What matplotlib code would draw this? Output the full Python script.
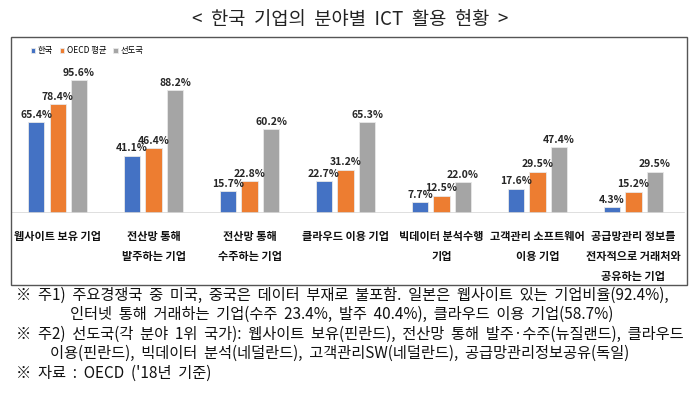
import numpy as np
import matplotlib
matplotlib.use("Agg")
import matplotlib.pyplot as plt
from matplotlib.patches import Rectangle

plt.rcParams['font.family'] = ['Noto Sans CJK KR', 'DejaVu Sans']

# data
categories = ["웹사이트 보유 기업", "전산망 통해\n발주하는 기업", "전산망 통해\n수주하는 기업",
              "클라우드 이용 기업", "빅데이터 분석수행\n기업", "고객관리 소프트웨어\n이용 기업",
              "공급망관리 정보를\n전자적으로 거래처와\n공유하는 기업"]
series_names = ["한국", "OECD 평균", "선도국"]
korea = [65.4, 41.1, 15.7, 22.7, 7.7, 17.6, 4.3]
oecd = [78.4, 46.4, 22.8, 31.2, 12.5, 29.5, 15.2]
leader = [95.6, 88.2, 60.2, 65.3, 22.0, 47.4, 29.5]
colors = ["#4472C4", "#ED7D31", "#A5A5A5"]

notes = [
    "※ 주1) 주요경쟁국 중 미국, 중국은 데이터 부재로 불포함. 일본은 웹사이트 있는 기업비율(92.4%),",
    "인터넷 통해 거래하는 기업(수주 23.4%, 발주 40.4%), 클라우드 이용 기업(58.7%)",
    "※ 주2) 선도국(각 분야 1위 국가): 웹사이트 보유(핀란드), 전산망 통해 발주·수주(뉴질랜드), 클라우드",
    "이용(핀란드), 빅데이터 분석(네덜란드), 고객관리SW(네덜란드), 공급망관리정보공유(독일)",
    "※ 자료 : OECD ('18년 기준)",
]
note_indent = [16, 70, 16, 50, 16]

W, H = 700, 395
fig = plt.figure(figsize=(7, 3.95), dpi=100)

# outer box
fig.add_artist(Rectangle((11 / W, 1 - 285 / H), 676 / W, 248 / H, transform=fig.transFigure,
                         fill=False, edgecolor="#555555", lw=1))

fig.text(0.5, 1 - 19 / H, "<  한국  기업의  분야별  ICT  활용  현황  >", ha="center", va="center",
         fontsize=13.5, color="#222222")

ax = fig.add_axes([10 / W, 1 - 213 / H, 676 / W, 176 / H])
x = np.arange(len(categories))
bw = 0.167
off = 0.224
for i, (vals, c, name) in enumerate(zip([korea, oecd, leader], colors, series_names)):
    bars = ax.bar(x + (i - 1) * off, vals, bw, color=c, edgecolor="#E8E8E8", lw=0.6, label=name)
    for b, v in zip(bars, vals):
        ax.text(b.get_x() + b.get_width() / 2, v + 1.8, f"{v:.1f}%", ha="center", va="bottom",
                fontsize=7.5, fontweight="bold", color="#262626")

ax.set_xlim(-0.495, 6.547)
ax.set_ylim(0, 126.6)
ax.axhline(0, xmin=0.003, xmax=0.997, color="#D9D9D9", lw=1.2)
for s in ax.spines.values():
    s.set_visible(False)
ax.set_yticks([])
ax.set_xticks(x)
ax.set_xticklabels(categories, fontsize=8, fontweight="bold", linespacing=1.7, color="#111111")
ax.tick_params(axis="x", length=0, pad=12)
ax.patch.set_alpha(0)

leg = ax.legend(loc="upper left", bbox_to_anchor=(0.026, 0.965), ncol=3, frameon=False,
                fontsize=6, handlelength=0.55, handleheight=0.55, handletextpad=0.3,
                columnspacing=0.8, borderaxespad=0)

for k, line in enumerate(notes):
    fig.text(note_indent[k] / W, 1 - (295 + k * 19.5) / H, line.replace(" ", "  "),
             ha="left", va="center", fontsize=11.0, color="#111111")

fig.savefig("out.png", dpi=100)
